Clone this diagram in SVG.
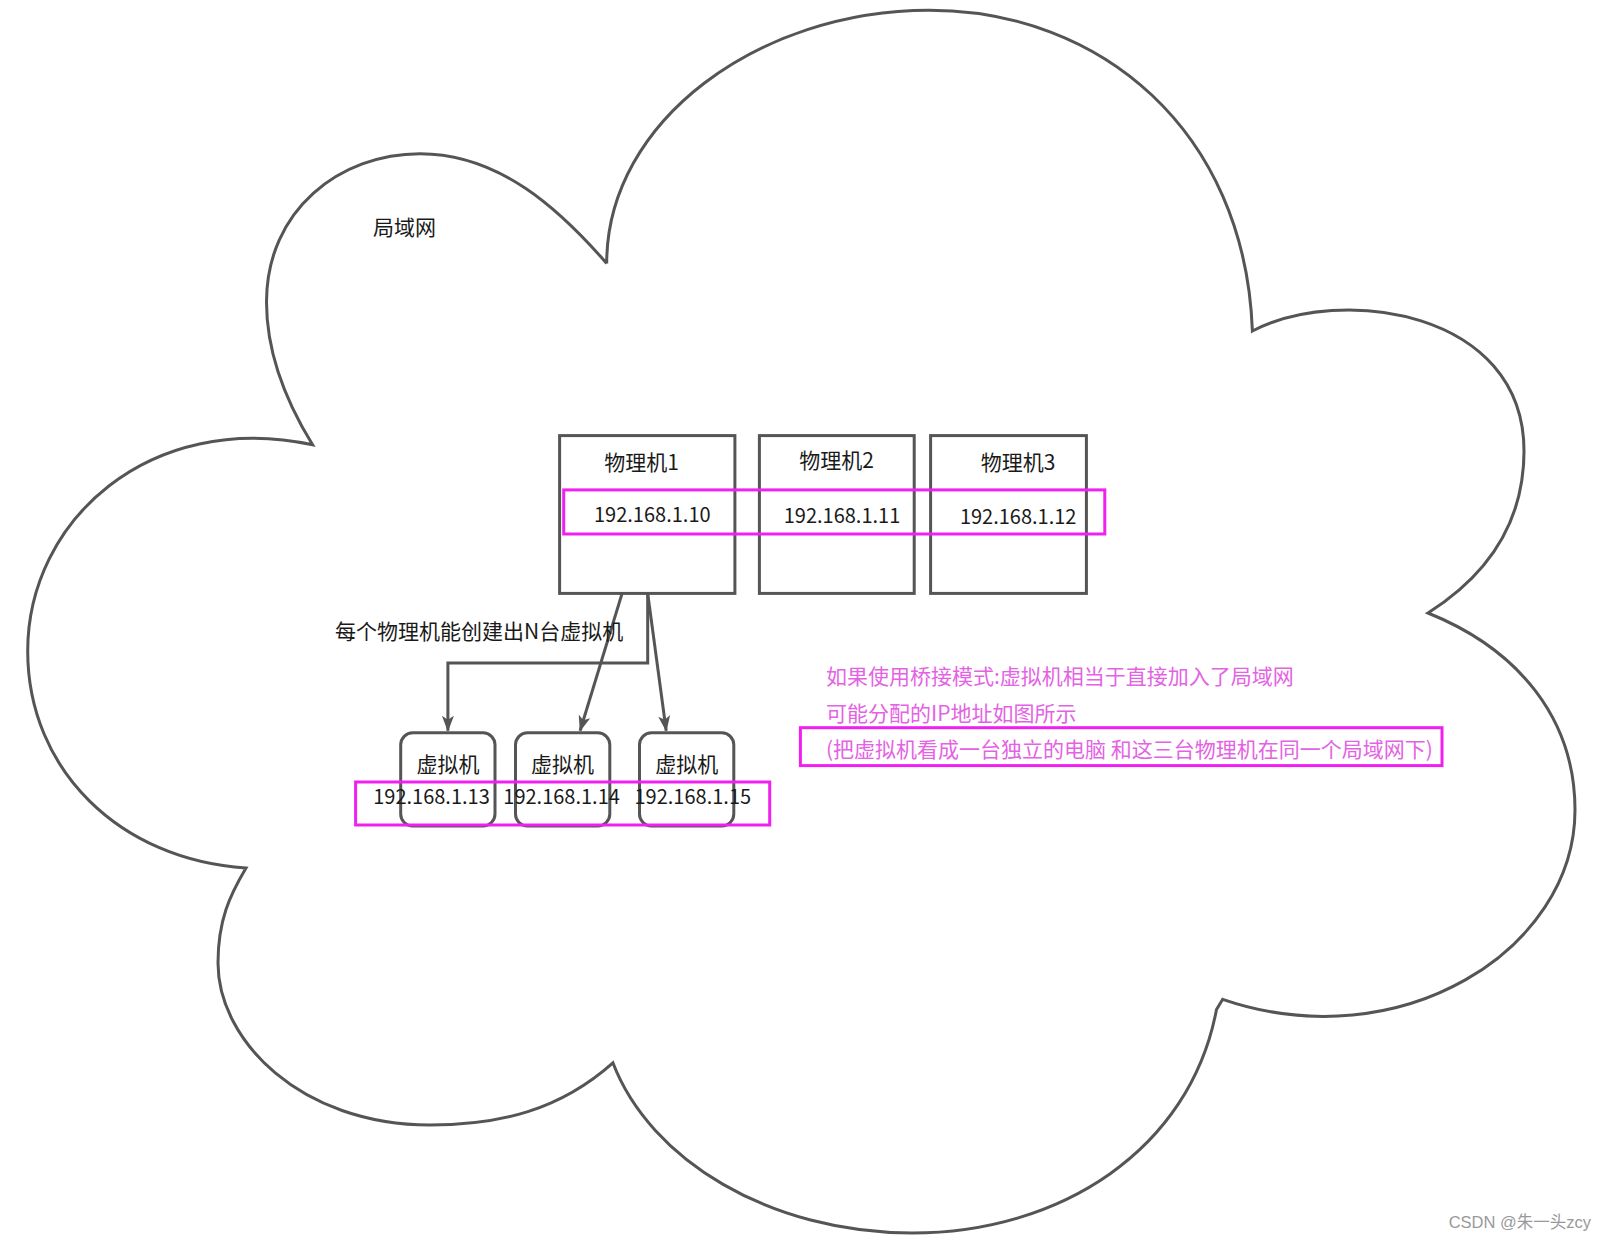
<svg xmlns="http://www.w3.org/2000/svg" width="1607" height="1241" viewBox="0 0 1607 1241">
<style>
.ln{fill:none;stroke:#555;stroke-width:3}
.bx{fill:#fff;stroke:#555;stroke-width:3}
.hl{fill:none;stroke:#f020f0;stroke-width:3}
.t{font-family:"Noto Sans CJK SC","Noto Sans",sans-serif;font-size:21px;fill:#1a1a1a;dominant-baseline:central}
.ip{font-size:20px}
.c{text-anchor:middle}
.p{font-family:"Noto Sans CJK SC","Noto Sans",sans-serif;font-size:21px;fill:#e462e4;dominant-baseline:central}
</style>
<defs>
<marker id="ah" viewBox="0 0 16 12" refX="15" refY="6" markerWidth="16" markerHeight="12" markerUnits="userSpaceOnUse" orient="auto">
<path d="M0,0 L16,6 L0,12 L4,6 Z" fill="#555"/>
</marker>
</defs>
<rect width="1607" height="1241" fill="#fff"/>
<g id="cloud">
<path class="ln" d="M606.7,263.4 C606.7,120 760,10.2 929,10.2 C1100,10.2 1245,130 1252.4,331 C1340,285 1524,310 1524,451 C1524,530 1480,580 1428,613 C1520,650 1575,720 1575,810 C1575,950 1400,1060 1222.7,999.3 L1216.5,1009.5 C1190,1150 1060,1233 912,1233 C770,1233 650,1160 612.9,1062.8 C560,1110 500,1125 430,1125 C300,1125 218,1040 218,963 C218,920 230,895 246,868 C120,860 27.7,770 27.7,651 C27.7,520 150,410 312.6,444.8 C285,400 266.5,350 266.5,302 C266.5,210 340,153.7 420,153.7 C500,153.7 560,210 606.7,263.4"/>
<text class="t" x="373" y="226">局域网</text>
</g>
<g id="pm1">
<rect class="bx" x="559.6" y="435.6" width="175.3" height="157.8"/>
<text class="t c" x="641.5" y="460.5">物理机1</text>
<text class="t ip c" x="652.3" y="513.5">192.168.1.10</text>
</g>
<g id="pm2">
<rect class="bx" x="759.4" y="435.6" width="154.8" height="157.8"/>
<text class="t c" x="836.5" y="458.5">物理机2</text>
<text class="t ip c" x="842" y="514.5">192.168.1.11</text>
</g>
<g id="pm3">
<rect class="bx" x="930.6" y="435.6" width="155.8" height="157.8"/>
<text class="t c" x="1018" y="460.5">物理机3</text>
<text class="t ip c" x="1018.2" y="515.5">192.168.1.12</text>
</g>
<g id="hl-pm">
<rect class="hl" x="563.7" y="489.9" width="541.1" height="44.1"/>
</g>
<g id="connectors">
<polyline class="ln" points="647.7,593.4 647.7,663.1 447.9,663.1 447.9,730.7" marker-end="url(#ah)"/>
<line class="ln" x1="622.1" y1="593.4" x2="580.1" y2="730.7" marker-end="url(#ah)"/>
<line class="ln" x1="647.7" y1="593.4" x2="666.2" y2="730.7" marker-end="url(#ah)"/>
<text class="t" x="335" y="629.5">每个物理机能创建出N台虚拟机</text>
</g>
<g id="vm1">
<rect class="bx" x="400.7" y="732.8" width="94.3" height="93.2" rx="12"/>
<text class="t c" x="447.9" y="763">虚拟机</text>
</g>
<g id="vm2">
<rect class="bx" x="515.5" y="732.8" width="94.3" height="93.2" rx="12"/>
<text class="t c" x="562.6" y="763">虚拟机</text>
</g>
<g id="vm3">
<rect class="bx" x="639.5" y="732.8" width="94.3" height="93.2" rx="12"/>
<text class="t c" x="686.7" y="763">虚拟机</text>
</g>
<g id="vm-ips">
<text class="t ip c" x="431.5" y="795.5">192.168.1.13</text>
<text class="t ip c" x="561.6" y="795.5">192.168.1.14</text>
<text class="t ip c" x="692.8" y="795.5">192.168.1.15</text>
<rect class="hl" x="355.6" y="782" width="414.1" height="43"/>
</g>
<g id="note">
<text class="p" x="826" y="675">如果使用桥接模式:虚拟机相当于直接加入了局域网</text>
<text class="p" x="826" y="712">可能分配的IP地址如图所示</text>
<text class="p" x="826" y="748">(把虚拟机看成一台独立的电脑 和这三台物理机在同一个局域网下)</text>
<rect class="hl" x="800.4" y="727.7" width="641.6" height="37.9"/>
</g>
<text x="1591" y="1222" text-anchor="end" dominant-baseline="central" font-family="Liberation Sans,'Noto Sans CJK SC',sans-serif" font-size="16.5" fill="#999">CSDN @朱一头zcy</text>
</svg>
